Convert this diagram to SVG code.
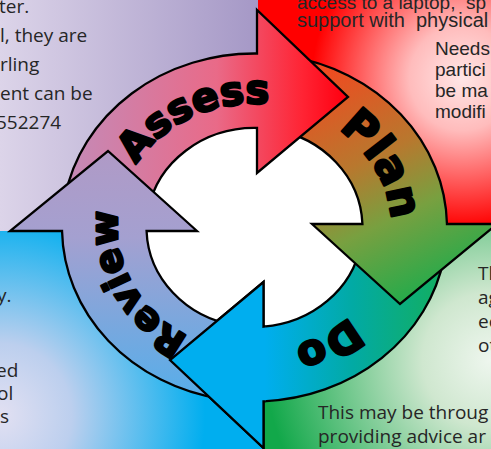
<svg xmlns="http://www.w3.org/2000/svg" width="491" height="449" viewBox="0 0 491 449">
  <style>
    .body { font-family: "Open Sans", "Noto Sans", sans-serif; font-size: 19px; fill: #262626; }
    .arial { font-family: "Liberation Sans", Arial, sans-serif; font-size: 19px; fill: #262626; white-space: pre; }
    .arrow { stroke: #000; stroke-width: 2.3; stroke-linejoin: miter; }
    .label { font-family: "DejaVu Sans", "Liberation Sans", sans-serif; font-weight: bold; fill: #000; stroke: #000; stroke-width: 2.4; stroke-linejoin: round; }
  </style>
  <defs>
    <linearGradient id="bgPurple" gradientUnits="userSpaceOnUse" x1="0" y1="0" x2="258" y2="0">
      <stop offset="0" stop-color="#dcd4e9"/>
      <stop offset="1" stop-color="#a598c6"/>
    </linearGradient>
    <radialGradient id="bgRed" gradientUnits="userSpaceOnUse" cx="462" cy="78" r="150">
      <stop offset="0" stop-color="#ffe6e6"/>
      <stop offset="0.35" stop-color="#ffbcbc"/>
      <stop offset="1" stop-color="#ff0000"/>
    </radialGradient>
    <radialGradient id="bgGreen" gradientUnits="userSpaceOnUse" cx="490" cy="360" r="225">
      <stop offset="0" stop-color="#eef6ee"/>
      <stop offset="0.3" stop-color="#cfe7cf"/>
      <stop offset="1" stop-color="#12a84a"/>
    </radialGradient>
    <radialGradient id="bgBlue" gradientUnits="userSpaceOnUse" cx="0" cy="415" r="205">
      <stop offset="0" stop-color="#e2e0f2"/>
      <stop offset="0.35" stop-color="#bccfee"/>
      <stop offset="1" stop-color="#00aeef"/>
    </radialGradient>

    <linearGradient id="gAssess" gradientUnits="userSpaceOnUse" x1="60" y1="0" x2="345" y2="0">
      <stop offset="0" stop-color="#c28cba"/>
      <stop offset="0.55" stop-color="#e96a88"/>
      <stop offset="0.85" stop-color="#ff2434"/>
      <stop offset="1" stop-color="#ff0010"/>
    </linearGradient>
    <linearGradient id="gPlan" gradientUnits="userSpaceOnUse" x1="320" y1="70" x2="430" y2="300">
      <stop offset="0" stop-color="#f04a20"/>
      <stop offset="0.4" stop-color="#b8782e"/>
      <stop offset="0.65" stop-color="#78a040"/>
      <stop offset="1" stop-color="#1cac4c"/>
    </linearGradient>
    <linearGradient id="gDo" gradientUnits="userSpaceOnUse" x1="440" y1="0" x2="265" y2="0">
      <stop offset="0" stop-color="#12ae62"/>
      <stop offset="0.5" stop-color="#02aaa4"/>
      <stop offset="1" stop-color="#00aeef"/>
    </linearGradient>
    <linearGradient id="gReview" gradientUnits="userSpaceOnUse" x1="0" y1="400" x2="0" y2="150">
      <stop offset="0" stop-color="#55aeea"/>
      <stop offset="0.65" stop-color="#a4a0d0"/>
      <stop offset="1" stop-color="#b09ac6"/>
    </linearGradient>

    <!-- clockwise baselines for the curved stage names -->
    <path id="ringA" d="M 117.5 227.5 A 137 124 0 0 1 391.5 227.5 A 137 124 0 0 1 117.5 227.5"/>
    <path id="ringB" d="M 254.5 351.5 A 137 124 0 0 1 117.5 227.5 A 137 124 0 0 1 254.5 103.5"/>

    <clipPath id="doHeadClip">
      <rect x="160" y="272" width="105.5" height="180"/>
    </clipPath>
  </defs>

  <!-- background panels -->
  <g id="panels">
    <rect x="0" y="0" width="258" height="231" fill="url(#bgPurple)"/>
    <rect x="258" y="0" width="233" height="224" fill="url(#bgRed)"/>
    <rect x="264" y="224" width="227" height="225" fill="url(#bgGreen)"/>
    <rect x="0" y="231" width="264" height="218" fill="url(#bgBlue)"/>
  </g>

  <!-- panel texts -->
  <g id="text-top-left" class="body">
    <text x="-1" y="13">ter.</text>
    <text x="0" y="42">l, they are</text>
    <text x="0" y="71">rling</text>
    <text x="0" y="100">ent can be</text>
    <text x="-4" y="129">552274</text>
  </g>
  <g id="text-top-right">
    <text class="arial" x="297" y="9">access to a laptop,  sp</text>
    <text class="arial" x="297" y="27" style="font-size:20px">support with  physical</text>
    <text class="arial" x="435" y="55">Needs</text>
    <text class="arial" x="435" y="76">partici</text>
    <text class="arial" x="435" y="97">be ma</text>
    <text class="arial" x="435" y="118">modifi</text>
  </g>
  <g id="text-right" class="body">
    <text x="478" y="280">Th</text>
    <text x="478" y="304">ag</text>
    <text x="478" y="328">ec</text>
    <text x="478" y="352">ot</text>
  </g>
  <g id="text-bottom-right" class="body">
    <text x="318" y="419">This may be throug</text>
    <text x="318" y="443">providing advice ar</text>
  </g>
  <g id="text-bottom-left" class="body">
    <text x="-3" y="302">y.</text>
    <text x="-4" y="377">ed</text>
    <text x="-3" y="400">ol</text>
    <text x="0" y="423">s</text>
  </g>

  <!-- cycle centre -->
  <ellipse cx="254.5" cy="227.5" rx="108" ry="99.5" fill="#fff"/>

  <g id="do">
    <path id="doArrow" class="arrow" fill="url(#gDo)" d="M 444.08 257.72 A 192.5 174 0 0 1 263.5 401.3 L 263.5 448 L 170 360 L 263.5 282 L 263.5 326.65 A 108 99.5 0 0 0 360.86 244.78 Z"/>
    <text class="label" font-size="42"><textPath href="#ringA" startOffset="543" text-anchor="middle">Do</textPath></text>
  </g>

  <g id="plan">
    <path class="arrow" fill="url(#gPlan)" d="M 287.93 56.14 A 192.5 174 0 0 1 446.96 224 L 497 224 L 400 304 L 312 224 L 362.43 224 A 108 99.5 0 0 0 273.25 129.51 Z"/>
    <text class="label" font-size="44"><textPath href="#ringA" startOffset="348" text-anchor="middle">Plan</textPath></text>
  </g>

  <g id="assess">
    <path class="arrow" fill="url(#gAssess)" d="M 64.92 197.28 A 192.5 174 0 0 1 257 53.5 L 257 10 L 348 97 L 257 173 L 257 128 A 108 99.5 0 0 0 148.14 210.22 Z"/>
    <text class="label" font-size="40"><textPath href="#ringA" startOffset="143" text-anchor="middle">Assess</textPath></text>
  </g>

  <g id="review">
    <path class="arrow" fill="url(#gReview)" d="M 221.07 398.86 A 192.5 174 0 0 1 62.04 231 L 10 231 L 108 151 L 197 231 L 146.57 231 A 108 99.5 0 0 0 235.75 325.49 Z"/>
    <text class="label" font-size="38"><textPath href="#ringB" startOffset="145" text-anchor="middle">Review</textPath></text>
  </g>

  <!-- the Do head sits over the tail of Review -->
  <g id="do-head">
    <use href="#doArrow" clip-path="url(#doHeadClip)"/>
  </g>
</svg>
